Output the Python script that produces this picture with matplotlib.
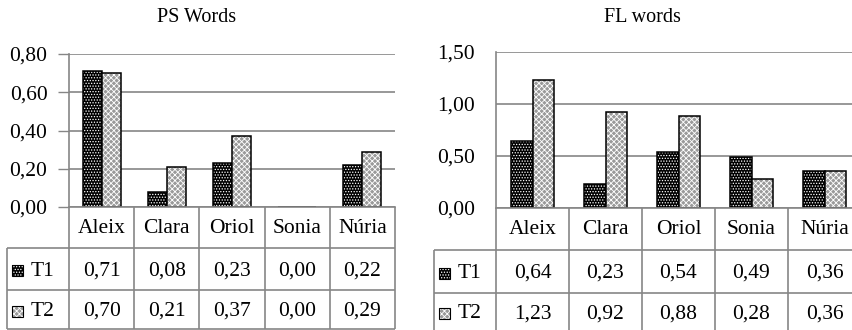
import matplotlib
matplotlib.use('Agg')
import matplotlib.pyplot as plt
from matplotlib.patches import Rectangle
from matplotlib.lines import Line2D
from matplotlib.ticker import FuncFormatter
import numpy as np

categories = ['Aleix', 'Clara', 'Oriol', 'Sonia', 'Núria']
series = ['T1', 'T2']
ps_t1 = [0.71, 0.08, 0.23, 0.00, 0.22]
ps_t2 = [0.70, 0.21, 0.37, 0.00, 0.29]
fl_t1 = [0.64, 0.23, 0.54, 0.49, 0.36]
fl_t2 = [1.23, 0.92, 0.88, 0.28, 0.36]
ps_yticks = [0.0, 0.2, 0.4, 0.6, 0.8]
fl_yticks = [0.0, 0.5, 1.0, 1.5]

plt.rcParams['font.family'] = ['Liberation Serif', 'DejaVu Serif']
plt.rcParams['hatch.linewidth'] = 0.6

W, H = 853, 330
GRAY = '#868686'
FS = 15.5

T1_STYLE = dict(facecolor='black', edgecolor='white', hatch='......', lw=0)
T2_STYLE = dict(facecolor='#9a9a9a', edgecolor='white', hatch='xxxxxx', lw=0)

fig = plt.figure(figsize=(W / 100, H / 100), dpi=100)
overlay = fig.add_axes([0, 0, 1, 1], zorder=5)
overlay.set_xlim(0, W)
overlay.set_ylim(H, 0)
overlay.axis('off')
overlay.patch.set_visible(False)


def fmt(v):
    return f"{v:.2f}".replace('.', ',')


def key(x, y, idx):
    style = T1_STYLE if idx == 0 else T2_STYLE
    overlay.add_patch(Rectangle((x, y), 11, 11, **style))
    overlay.add_patch(Rectangle((x, y), 11, 11, fill=False, edgecolor='black', lw=0.8))


def panel(left, right, top, zero, ymax, yticks, t1, t2, title, title_x,
          table_left, rows, tick_len, pad):
    ax = fig.add_axes([left / W, (H - zero) / H, (right - left) / W, (zero - top) / H])
    ax.set_xlim(-0.5, 4.5)
    ax.set_ylim(0, ymax)
    x = np.arange(len(categories))
    bw = 0.29
    ax.bar(x - bw / 2, t1, bw, zorder=2, **T1_STYLE)
    ax.bar(x - bw / 2, t1, bw, fill=False, edgecolor='black', lw=1.1, zorder=2)
    ax.bar(x + bw / 2, t2, bw, zorder=2, **T2_STYLE)
    ax.bar(x + bw / 2, t2, bw, fill=False, edgecolor='black', lw=1.1, zorder=2)
    ax.set_yticks(yticks)
    ax.yaxis.set_major_formatter(FuncFormatter(lambda v, p: fmt(v)))
    ax.set_xticks([])
    ax.tick_params(axis='y', length=tick_len, width=1, color=GRAY, pad=pad, labelsize=FS)
    ax.yaxis.grid(True, color=GRAY, lw=1.2)
    ax.set_axisbelow(True)
    for s in ['top', 'right']:
        ax.spines[s].set_visible(False)
    for s in ['left', 'bottom']:
        ax.spines[s].set_color(GRAY)
        ax.spines[s].set_linewidth(1.2)

    def px(xd):
        return left + (xd + 0.5) / len(categories) * (right - left)

    r0, r1, r2, r3 = rows
    lk = dict(color=GRAY, lw=1.2, solid_capstyle='butt')
    for yy in (r1, r2, r3):
        overlay.add_line(Line2D([table_left, px(4.5)], [yy, yy], **lk))
    for i in range(len(categories) + 1):
        xx = px(i - 0.5)
        overlay.add_line(Line2D([xx, xx], [r0, r3], **lk))
    overlay.add_line(Line2D([table_left, table_left], [r1, r3], **lk))
    for i, c in enumerate(categories):
        overlay.text(px(i), (r0 + r1) / 2 + 1, c, ha='center', va='center', fontsize=FS)
    for ridx, vals in enumerate((t1, t2)):
        yc = ((r1, r2)[ridx] + (r2, r3)[ridx]) / 2 + 2
        for i, v in enumerate(vals):
            overlay.text(px(i), yc, fmt(v), ha='center', va='center', fontsize=FS)
        key(table_left + 5, yc - 6, ridx)
        overlay.text(table_left + 24, yc, series[ridx], ha='left', va='center', fontsize=FS)
    overlay.text(title_x, 17, title, ha='center', va='center', fontsize=14.5)
    return ax


panel(69, 395, 54, 207, 0.8, ps_yticks, ps_t1, ps_t2, 'PS Words', 197,
      7, (207, 248, 290, 329), 8, 7.5)
panel(496, 861, 52, 208, 1.5, fl_yticks, fl_t1, fl_t2, 'FL words', 642,
      434, (208, 250, 293, 331), 0, 15)

fig.savefig('out.png', dpi=100)
